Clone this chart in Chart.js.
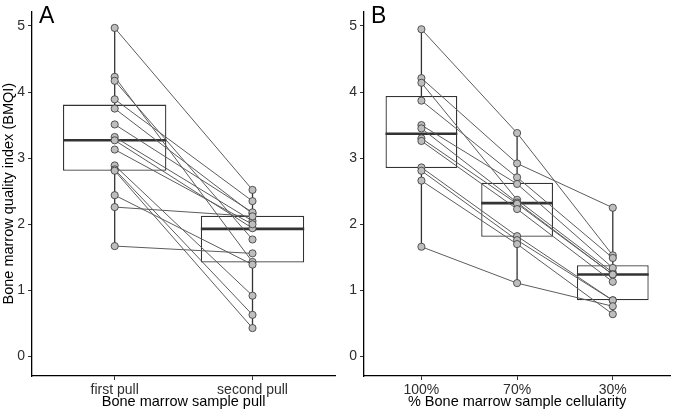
<!DOCTYPE html>
<html>
<head>
<meta charset="utf-8">
<script src="https://cdn.jsdelivr.net/npm/chart.js@4.4.1/dist/chart.umd.min.js"></script>
<style>
  html, body { margin:0; padding:0; background:#fff; }
  #wrap { position:relative; width:675px; height:410px; overflow:hidden; }
  .panel { position:absolute; top:0; height:410px; }
  #pA { left:0; width:340px; }
  #pB { left:340px; width:335px; }
  .tag { position:absolute; top:2px; font:23px 'Liberation Sans', Arial, sans-serif; color:#000; }
</style>
</head>
<body>
<div id="wrap">
  <div class="panel" id="pA"><canvas id="chartA" width="340" height="410"></canvas></div>
  <div class="panel" id="pB"><canvas id="chartB" width="335" height="410"></canvas></div>
  <div class="tag" style="left:39px">A</div>
  <div class="tag" style="left:371px">B</div>
</div>
<script>
// --- Datos ---
const yTicks = [0, 1, 2, 3, 4, 5];

// Panel A: primera vs segunda extracción (cada índice = un paciente)
const pullCats = ['first pull', 'second pull'];
const firstPull  = [4.97, 4.23, 4.17, 3.89, 3.75, 3.51, 3.32, 3.27, 3.13, 2.89, 2.83, 2.81, 2.44, 2.26, 1.67];
const secondPull = [2.52, 1.43, 1.77, 2.35, 2.16, 2.18, 2.05, 1.94, 2.00, 0.92, 0.63, 0.43, 1.39, 2.12, 1.56];
const pullMin = [1.67, 0.43];
const pullQ1  = [2.81, 1.42];
const pullMed = [3.27, 1.93];
const pullQ3  = [3.81, 2.13];
const pullMax = [4.97, 2.52];

// Panel B: celularidad de la muestra
const cellCats = ['100%', '70%', '30%'];
const cell100 = [4.95, 4.21, 4.14, 3.87, 3.50, 3.45, 3.30, 3.26, 2.86, 2.81, 2.66, 1.66];
const cell70  = [3.38, 2.92, 2.37, 2.71, 2.61, 2.33, 2.31, 2.23, 1.82, 1.76, 1.70, 1.11];
const cell30  = [1.53, 2.25, 1.27, 1.49, 1.34, 1.24, 1.24, 1.13, 0.85, 0.85, 0.64, 0.76];
const cellMin = [1.66, 1.11, 0.64];
const cellQ1  = [2.85, 1.81, 0.85];
const cellMed = [3.37, 2.32, 1.24];
const cellQ3  = [3.94, 2.63, 1.38];
const cellMax = [4.95, 3.38, 2.25];

// --- Estilo ---
const FONT = "'Liberation Sans', Arial, sans-serif";
const BOX_W = 0.75;
const DARK = '#333333';
const TICK_COLOR = '#2e2e2e';

Chart.defaults.font.family = FONT;
Chart.defaults.animation = false;

function segment(points, color, width, order){
  return { type:'line', data: points, borderColor: color, borderWidth: width, pointRadius: 0, fill: false, tension: 0, order };
}

function buildPanel(canvasId, cats, series, box, xTitle, yTitle, yWidth, padRight){
  const n = cats.length;
  const datasets = [];

  // bigotes (debajo de la caja)
  cats.forEach((c, i) => {
    datasets.push(segment([{x:i+1, y:box.min[i]}, {x:i+1, y:box.max[i]}], DARK, 1.3, 5));
  });

  // cajas como barras flotantes
  datasets.push({
    type:'bar',
    data: cats.map((c, i) => ({ x:i+1, y:[box.q1[i], box.q3[i]] })),
    backgroundColor:'#ffffff', borderColor: DARK, borderWidth: 1.3, borderSkipped: false,
    barPercentage: 1, categoryPercentage: BOX_W, order: 4
  });

  // medianas
  cats.forEach((c, i) => {
    datasets.push(segment([{x:i+1-BOX_W/2, y:box.med[i]}, {x:i+1+BOX_W/2, y:box.med[i]}], DARK, 2.6, 3));
  });

  // líneas por paciente
  const nSubj = series[0].length;
  for (let j = 0; j < nSubj; j++){
    datasets.push(segment(series.map((arr, i) => ({x:i+1, y:arr[j]})), '#5c5c5c', 1, 2));
  }

  // puntos
  const pts = [];
  series.forEach((arr, i) => arr.forEach(v => pts.push({x:i+1, y:v})));
  datasets.push({
    type:'scatter', data: pts, showLine:false,
    pointRadius: 3.6, pointBackgroundColor:'#bebebe', pointBorderColor: DARK, pointBorderWidth: 0.8,
    order: 1
  });

  const axisGrid = { display:true, drawOnChartArea:false, drawTicks:true, tickLength:4, color: DARK, offset:false };
  const axisBorder = { display:true, color:'#000', width:1.3 };

  return new Chart(document.getElementById(canvasId), {
    type:'scatter',
    data: { datasets },
    options: {
      responsive:false,
      animation:false,
      events: [],
      layout: { padding: { left:0, right:padRight, top:2, bottom:0 } },
      plugins: { legend:{display:false}, tooltip:{enabled:false} },
      scales: {
        x: {
          type:'linear', min:0.4, max:n + 0.6, offset:false,
          afterBuildTicks: s => { s.ticks = cats.map((c, i) => ({ value:i+1 })); },
          afterFit: s => { s.height = 34; },
          ticks: { callback: (v, idx) => cats[idx], color: TICK_COLOR, font:{size:14}, padding:2, maxRotation:0, autoSkip:false },
          grid: axisGrid, border: axisBorder,
          title: { display:true, text:xTitle, color:'#000', font:{size:14.5}, padding:{top:0, bottom:-1} }
        },
        y: {
          type:'linear', min:-0.295, max:5.22,
          afterBuildTicks: s => { s.ticks = yTicks.map(v => ({ value:v })); },
          afterFit: s => { s.width = yWidth; },
          ticks: { color: TICK_COLOR, font:{size:14}, padding:3 },
          grid: axisGrid, border: axisBorder,
          title: { display: !!yTitle, text: yTitle || '', color:'#000', font:{size:14.5}, padding:{top:0, bottom:0} }
        }
      }
    }
  });
}

buildPanel('chartA', pullCats, [firstPull, secondPull],
  { min:pullMin, q1:pullQ1, med:pullMed, q3:pullQ3, max:pullMax },
  'Bone marrow sample pull', 'Bone marrow quality index (BMQI)', 32, 2);

buildPanel('chartB', cellCats, [cell100, cell70, cell30],
  { min:cellMin, q1:cellQ1, med:cellMed, q3:cellQ3, max:cellMax },
  '% Bone marrow sample cellularity', null, 24, 0);
</script>
</body>
</html>
